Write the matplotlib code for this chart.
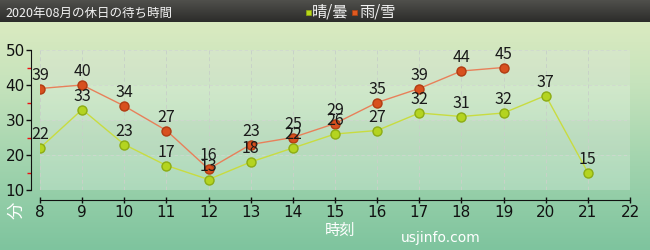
import numpy as np
import matplotlib.pyplot as plt
from matplotlib.colors import LinearSegmentedColormap
from matplotlib.patches import Rectangle

plt.rcParams["font.family"] = ["Noto Sans CJK JP", "DejaVu Sans"]

# Data
hours_sunny = [8, 9, 10, 11, 12, 13, 14, 15, 16, 17, 18, 19, 20, 21]
wait_sunny = [22, 33, 23, 17, 13, 18, 22, 26, 27, 32, 31, 32, 37, 15]
hours_rain = [8, 9, 10, 11, 12, 13, 14, 15, 16, 17, 18, 19]
wait_rain = [39, 40, 34, 27, 16, 23, 25, 29, 35, 39, 44, 45]
x_ticks = list(range(8, 23))
y_ticks = [10, 20, 30, 40, 50]

title = "2020年08月の休日の待ち時間"
legend_labels = ["晴/曇", "雨/雪"]

W, H = 650, 250
fig = plt.figure(figsize=(W / 100, H / 100), dpi=100)

# Background gradient
bg = fig.add_axes([0, 0, 1, 1], zorder=-10)
bg_cmap = LinearSegmentedColormap.from_list(
    "bg", ["#e2edc2", "#c6e3bc", "#a0d3ad", "#7ec49e"])
grad = np.linspace(0, 1, 256).reshape(-1, 1)
bg.imshow(grad, aspect="auto", cmap=bg_cmap, extent=[0, 1, 0, 1], origin="upper")

# Header bar
hdr_cmap = LinearSegmentedColormap.from_list("hdr", ["#50504c", "#2c2c2a"])
bg.imshow(np.linspace(0, 1, 64).reshape(-1, 1), aspect="auto", cmap=hdr_cmap,
          extent=[0, 1, 1 - 22 / H, 1], origin="upper")
bg.set_xlim(0, 1)
bg.set_ylim(0, 1)
bg.axis("off")

fig.text(5 / W, 1 - 13 / H, title, color="#f2f2f2", fontsize=9,
         ha="left", va="center")

# Legend in header
fig.add_artist(Rectangle((306 / W, 1 - 15 / H), 5 / W, 5 / H,
                         transform=fig.transFigure, facecolor="#b8d818",
                         edgecolor="#90a810", lw=0.5))
fig.text(312 / W, 1 - 12 / H, legend_labels[0], color="#f2f2f2", fontsize=11,
         ha="left", va="center")
fig.add_artist(Rectangle((352 / W, 1 - 15 / H), 5 / W, 5 / H,
                         transform=fig.transFigure, facecolor="#e05a20",
                         edgecolor="#b04010", lw=0.5))
fig.text(359 / W, 1 - 12 / H, legend_labels[1], color="#f2f2f2", fontsize=11,
         ha="left", va="center")

# Main axes
ax = fig.add_axes([40 / W, 60 / H, 590 / W, 140 / H])
ax.set_facecolor("none")
ax.set_xlim(8, 22)
ax.set_ylim(10, 50)

ax.axhspan(10, 50, color="white", alpha=0.22, lw=0, zorder=0)
for lo, hi in [(20, 30), (40, 50)]:
    ax.axhspan(lo, hi, color="#a0b0a0", alpha=0.07, lw=0, zorder=0)

for xv in x_ticks:
    ax.axvline(xv, color="#c8d2c8", lw=0.7, ls=(0, (4, 3)), zorder=0.5)
for yv in y_ticks[1:]:
    ax.axhline(yv, color="#d0d8d0", lw=0.6, ls=(0, (4, 3)), zorder=0.5)

ax.plot(hours_rain, wait_rain, color="#e8805a", lw=1.0, zorder=2)
ax.plot(hours_sunny, wait_sunny, color="#c8dc40", lw=1.0, zorder=2)
ax.plot(hours_rain, wait_rain, ls="none", marker="o", ms=6.5,
        mfc="#d8501e", mec="#b03c12", mew=1.0, zorder=3)
ax.plot(hours_sunny, wait_sunny, ls="none", marker="o", ms=6.5,
        mfc="#b4d420", mec="#8cac14", mew=1.0, zorder=3)

for xs, ys in [(hours_sunny, wait_sunny), (hours_rain, wait_rain)]:
    for xv, yv in zip(xs, ys):
        ax.annotate(str(yv), (xv, yv), xytext=(0, 3.5), textcoords="offset points",
                    ha="center", va="bottom", fontsize=11.5, color="#1a1a1a",
                    zorder=4)

for s in ["top", "right"]:
    ax.spines[s].set_visible(False)
ax.spines["left"].set_position(("outward", 6.5))
ax.spines["bottom"].set_position(("outward", 7.2))
ax.spines["left"].set_bounds(10, 50)
ax.spines["bottom"].set_bounds(8, 22)
ax.spines["left"].set_color("#111111")
ax.spines["bottom"].set_color("#111111")

ax.set_xticks(x_ticks)
ax.set_yticks(y_ticks)
ax.set_yticks([15, 25, 35, 45], minor=True)
ax.tick_params(axis="x", direction="inout", length=5, width=1, pad=1,
               labelsize=11, colors="#111111")
ax.tick_params(axis="y", direction="out", length=3.5, width=1, pad=1,
               labelsize=11, colors="#111111")
ax.tick_params(axis="y", which="minor", direction="out", length=3,
               width=1, color="#ee1010")
for lab in ax.get_xticklabels() + ax.get_yticklabels():
    lab.set_family("DejaVu Sans")

fig.text(16 / W, 1 - 210 / H, "分", color="white", fontsize=12.5,
         rotation=90, ha="center", va="center")
fig.text(340 / W, 1 - 230 / H, "時刻", color="white", fontsize=11,
         ha="center", va="center")
fig.text(441 / W, 1 - 238 / H, "usjinfo.com", color="white", fontsize=10,
         ha="center", va="center", family="DejaVu Sans")

fig.savefig("out.png", dpi=100)
